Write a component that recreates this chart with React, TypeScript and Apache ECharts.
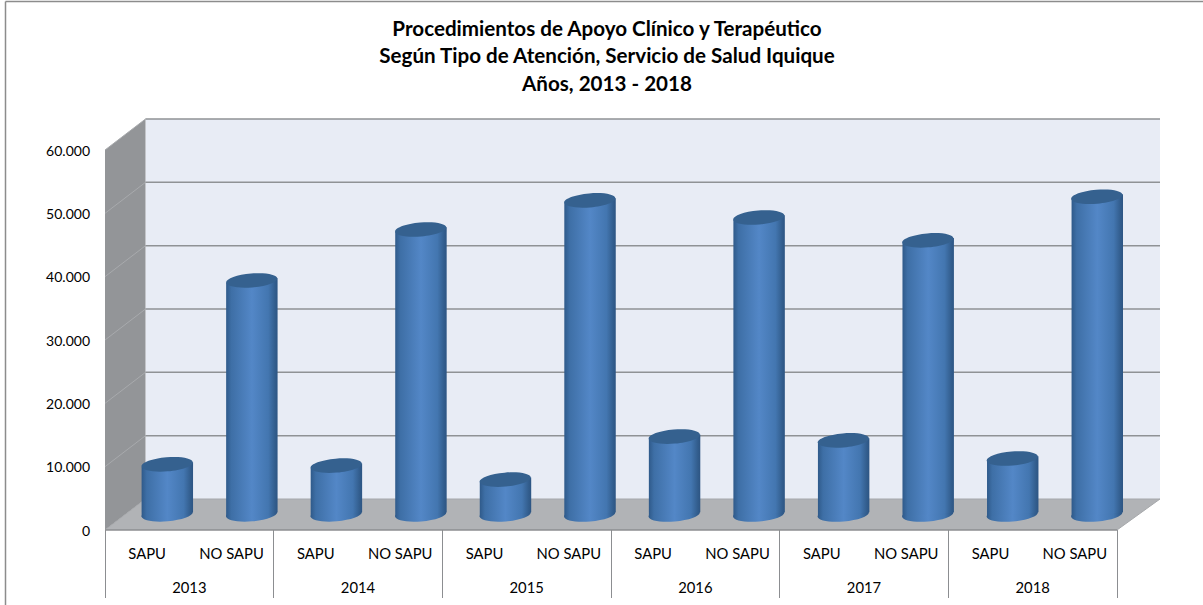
import React, { useEffect, useRef } from "react";
import * as echarts from "echarts";

const titleLines = [
  "Procedimientos de Apoyo Clínico y Terapéutico",
  "Según Tipo de Atención, Servicio de Salud Iquique",
  "Años, 2013 - 2018",
];
const years = ["2013", "2014", "2015", "2016", "2017", "2018"];
const categories = ["SAPU", "NO SAPU", "SAPU", "NO SAPU", "SAPU", "NO SAPU", "SAPU", "NO SAPU", "SAPU", "NO SAPU", "SAPU", "NO SAPU"];
const values = [7900, 36950, 7700, 45000, 5500, 49600, 12300, 46900, 11700, 43300, 8850, 50200];
const gridValues = [0, 10000, 20000, 30000, 40000, 50000, 60000];

const DX = 40.5;
const DXR = 43;
const DY = -31;
const FONT = "Lato, 'Open Sans', sans-serif";

const barFill = {
  type: "linear", x: 0, y: 0, x2: 1, y2: 0,
  colorStops: [
    { offset: 0, color: "#2f5a8a" },
    { offset: 0.1, color: "#3e6fa6" },
    { offset: 0.5, color: "#5387c7" },
    { offset: 0.82, color: "#4376b0" },
    { offset: 0.95, color: "#325d8d" },
    { offset: 1, color: "#2d5583" },
  ],
};

function renderWalls(params: any, api: any) {
  const cs = params.coordSys;
  const l = cs.x, r = cs.x + cs.width, t = cs.y, b = cs.y + cs.height;
  return {
    type: "group",
    children: [
      { type: "polygon", shape: { points: [[l + DX, t + DY], [r + DXR, t + DY], [r + DXR, b + DY], [l + DX, b + DY]] }, style: { fill: "#e8ecf5" } },
      { type: "polygon", shape: { points: [[l, t], [l + DX, t + DY], [l + DX, b + DY], [l, b]] }, style: { fill: "#939598" } },
      { type: "polygon", shape: { points: [[l, b], [l + DX, b + DY], [r + DXR, b + DY], [r, b]] }, style: { fill: "#b1b3b6" } },
    ],
  };
}

function renderGridLine(params: any, api: any) {
  const cs = params.coordSys;
  const y = api.coord([0, api.value(0)])[1];
  const l = cs.x, r = cs.x + cs.width;
  const isFloor = api.value(0) === 0;
  return {
    type: "group",
    children: isFloor
      ? [
          { type: "line", shape: { x1: l, y1: y, x2: l + DX, y2: y + DY }, style: { stroke: "#a6a8ab", lineWidth: 1 } },
          { type: "line", shape: { x1: l + DX, y1: y + DY, x2: r + DXR, y2: y + DY }, style: { stroke: "#a6a8ab", lineWidth: 1 } },
          { type: "line", shape: { x1: r, y1: y, x2: r + DXR, y2: y + DY }, style: { stroke: "#a6a8ab", lineWidth: 1 } },
          { type: "line", shape: { x1: l, y1: y, x2: r, y2: y }, style: { stroke: "#8c8e91", lineWidth: 1.5 } },
        ]
      : [
          { type: "line", shape: { x1: l, y1: y, x2: l + DX, y2: y + DY }, style: { stroke: "#a8aaad", lineWidth: 1 } },
          { type: "line", shape: { x1: l + DX, y1: y + DY, x2: r + DXR, y2: y + DY }, style: { stroke: "#8f9295", lineWidth: 1.5 } },
        ],
  };
}

function renderCylinder(params: any, api: any) {
  const cs = params.coordSys;
  const p = api.coord([api.value(0), api.value(1)]);
  const base = api.coord([api.value(0), 0]);
  const band = api.size([1, 0])[0];
  const frac = (p[0] - cs.x) / cs.width;
  const cx = p[0] + DX / 2 - 0.2 + (DXR - DX) * frac;
  const yt = p[1] + DY / 2;
  const yb = base[1] + DY / 2;
  const rx = band * 0.305;
  const ry = 7;
  const tilt = 2.2;
  const rot = Math.atan2(tilt, rx);
  return {
    type: "group",
    children: [
      { type: "ellipse", shape: { cx, cy: yb, rx, ry }, rotation: rot, originX: cx, originY: yb, style: { fill: barFill } },
      { type: "polygon", shape: { points: [[cx - rx, yt + tilt], [cx + rx, yt - tilt], [cx + rx, yb - tilt], [cx - rx, yb + tilt]] }, style: { fill: barFill } },
      { type: "ellipse", shape: { cx, cy: yt, rx, ry }, rotation: rot, originX: cx, originY: yt, style: { fill: "#35618f" } },
    ],
  };
}

export default function App() {
  const ref = useRef<HTMLDivElement>(null);
  useEffect(() => {
    const chart = echarts.init(ref.current!, undefined, { renderer: "svg" });
    chart.setOption({
      animation: false,
      backgroundColor: "#ffffff",
      title: {
        text: titleLines.join("\n"),
        left: 602,
        top: 9,
        textAlign: "center",
        textStyle: { fontFamily: FONT, fontSize: 20.6, fontWeight: "bold", color: "#000000", lineHeight: 27.5 },
      },
      graphic: [
        { type: "line", shape: { x1: 5.5, y1: 1.5, x2: 1203, y2: 1.5 }, style: { stroke: "#8c8c8c", lineWidth: 1.5 } },
        { type: "line", shape: { x1: 5.5, y1: 1.5, x2: 5.5, y2: 605 }, style: { stroke: "#8c8c8c", lineWidth: 1.5 } },
      ],
      grid: { left: 105, right: 86, top: 150, bottom: 75, containLabel: false },
      xAxis: [
        {
          type: "category",
          data: categories,
          position: "bottom",
          axisLine: { show: false },
          axisTick: { show: false },
          axisLabel: { interval: 0, margin: 15, fontFamily: FONT, fontSize: 14.8, color: "#000000" },
        },
        {
          type: "category",
          data: years,
          position: "bottom",
          axisLine: { show: false },
          axisTick: { show: true, length: 68, lineStyle: { color: "#8c8e91", width: 1 } },
          axisLabel: { interval: 0, margin: 49, fontFamily: FONT, fontSize: 14.8, color: "#000000" },
        },
      ],
      yAxis: {
        type: "value",
        min: 0,
        max: 60000,
        interval: 10000,
        axisLine: { show: false },
        axisTick: { show: false },
        splitLine: { show: false },
        axisLabel: {
          margin: 15,
          fontFamily: FONT,
          fontSize: 14,
          color: "#000000",
          padding: [2, 0, 0, 0],
          formatter: (v: number) => String(v).replace(/\B(?=(\d{3})+$)/g, "."),
        },
      },
      series: [
        { type: "custom", name: "walls", z: 1, silent: true, data: [[0, 0]], encode: { x: 0, y: 1 }, renderItem: renderWalls },
        { type: "custom", name: "grid", z: 2, silent: true, data: gridValues.map((v) => [v]), encode: { y: 0 }, renderItem: renderGridLine },
        { type: "custom", name: "Procedimientos", z: 3, data: values.map((v, i) => [i, v]), encode: { x: 0, y: 1 }, renderItem: renderCylinder },
      ],
    });
    return () => chart.dispose();
  }, []);
  return <div ref={ref} style={{ position: "fixed", left: 0, top: 0, width: 1203, height: 605 }} />;
}
